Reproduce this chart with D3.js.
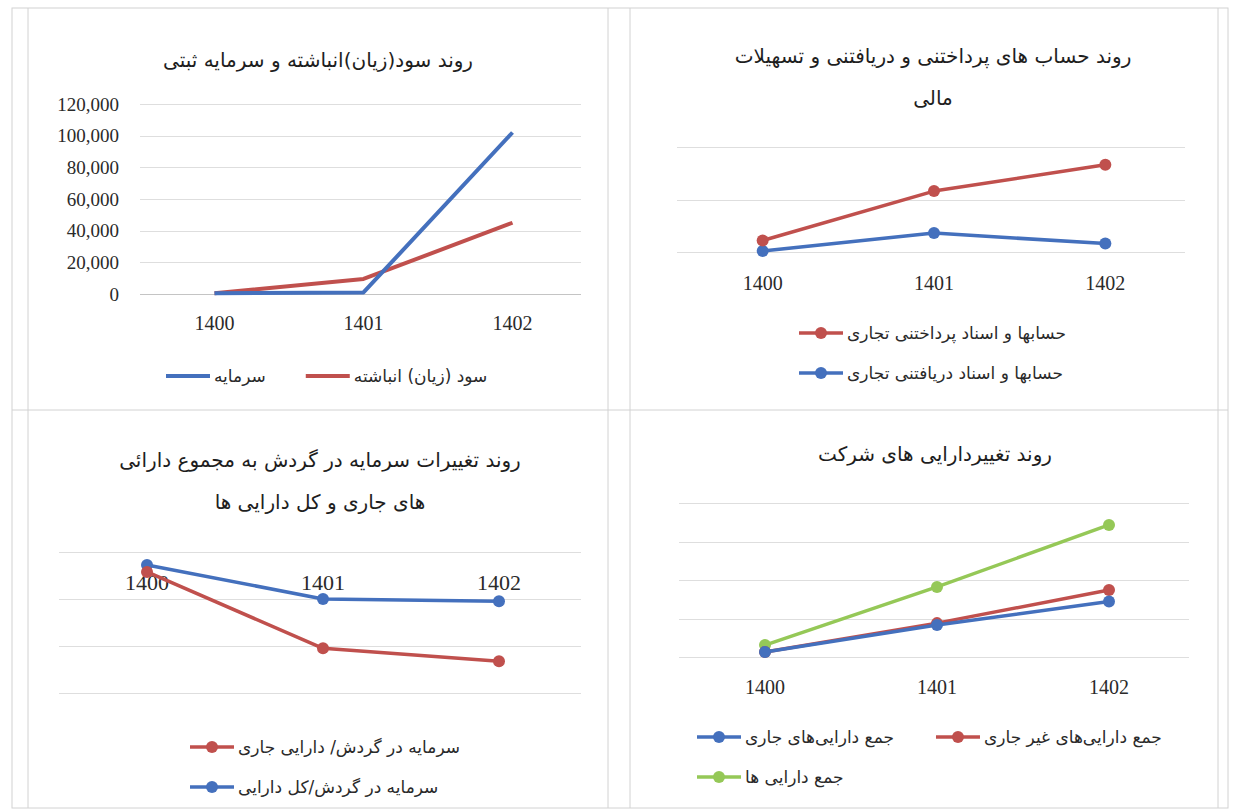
<!DOCTYPE html>
<html>
<head>
<meta charset="utf-8">
<script src="https://cdn.jsdelivr.net/npm/d3@7"></script>
<style>
  body { margin: 0; background: #fff; }
  svg { display: block; }
</style>
</head>
<body>
<svg id="chart"></svg>
<script>
const years = ["1400", "1401", "1402"];

// top-left: accumulated profit and registered capital
const sarmayeh = [500, 1000, 102000];
const sudZiyan = [500, 9500, 45000];
const p1Ticks = [0, 20000, 40000, 60000, 80000, 100000, 120000];

// top-right: payables / receivables
const pardakhtani = [11, 58, 83];
const daryaftani = [1, 18, 8];
const p2Grid = [0, 50, 100];

// bottom-left: working capital ratios
const sarmayehJari = [-0.085, -0.41, -0.465];
const sarmayehKol = [-0.055, -0.2, -0.21];
const p3Grid = [0, -0.2, -0.4, -0.6];

// bottom-right: company assets
const jariAssets = [130, 830, 1440];
const ghairJariAssets = [130, 880, 1740];
const totalAssets = [310, 1820, 3430];
const p4Grid = [0, 1000, 2000, 3000, 4000];

const blue = "#4470bd";
const red = "#c0504d";
const green = "#95c857";

const width = 1235;
const height = 812;
const numFont = "'Liberation Serif', 'Times New Roman', serif";
const faFont = "'DejaVu Sans', sans-serif";

const svg = d3.select("#chart").attr("width", width).attr("height", height);

// panel frame
const frame = svg.append("g").attr("stroke", "#d2d2d2").attr("fill", "none");
frame.append("rect").attr("x", 12).attr("y", 8).attr("width", 1216).attr("height", 800);
[28, 608, 630, 1218].forEach((x) => {
  frame.append("line").attr("x1", x).attr("x2", x).attr("y1", 8).attr("y2", 808);
});
frame.append("line").attr("x1", 12).attr("x2", 1228).attr("y1", 410).attr("y2", 410);

const panels = [
  {
    title: ["روند سود(زیان)انباشته و سرمایه ثبتی"],
    titleX: 318, titleY: 60,
    xRange: [140, 587],
    yDomain: [0, 120000], yRange: [294, 104],
    grid: p1Ticks, showY: true, axisAt: 0, labelY: 323, labelSize: 20,
    markers: false, lineWidth: 4,
    series: [
      { name: "سرمایه", values: sarmayeh, color: blue },
      { name: "سود (زیان) انباشته", values: sudZiyan, color: red },
    ],
    legend: [[0, 1]], legendX: 166, legendY: 376, legendGap: 40,
  },
  {
    title: ["روند حساب های پرداختنی و دریافتنی و تسهیلات", "مالی"],
    titleX: 933, titleY: 56,
    xRange: [677, 1191],
    yDomain: [0, 100], yRange: [252, 147],
    grid: p2Grid, showY: false, axisAt: null, labelY: 283, labelSize: 20,
    markers: true, lineWidth: 3.5,
    series: [
      { name: "حسابها و اسناد پرداختنی تجاری", values: pardakhtani, color: red },
      { name: "حسابها و اسناد دریافتنی تجاری", values: daryaftani, color: blue },
    ],
    legend: [[0], [1]], legendX: 799, legendY: 333, legendGap: 40,
  },
  {
    title: ["روند تغییرات سرمایه در گردش به مجموع دارائی", "های جاری و کل دارایی ها"],
    titleX: 320, titleY: 460,
    xRange: [59, 587],
    yDomain: [-0.6, 0], yRange: [693, 552],
    grid: p3Grid, showY: false, axisAt: null, labelY: 582, labelSize: 22,
    markers: true, lineWidth: 3.5,
    series: [
      { name: "سرمایه در گردش/ دارایی جاری", values: sarmayehJari, color: red },
      { name: "سرمایه در گردش/کل دارایی", values: sarmayehKol, color: blue },
    ],
    legend: [[0], [1]], legendX: 190, legendY: 747, legendGap: 40,
  },
  {
    title: ["روند تغییردارایی های شرکت"],
    titleX: 935, titleY: 454,
    xRange: [679, 1195],
    yDomain: [0, 4000], yRange: [657, 503],
    grid: p4Grid, showY: false, axisAt: null, labelY: 687, labelSize: 20,
    markers: true, lineWidth: 3.5,
    series: [
      { name: "جمع دارایی‌های جاری", values: jariAssets, color: blue },
      { name: "جمع دارایی‌های غیر جاری", values: ghairJariAssets, color: red },
      { name: "جمع دارایی ها", values: totalAssets, color: green },
    ],
    legend: [[0, 1], [2]], legendX: 697, legendY: 737, legendGap: 42,
  },
];

panels.forEach(function (p) {
  const g = svg.append("g");

  const x = d3.scaleBand().domain(years).range(p.xRange);
  const y = d3.scaleLinear().domain(p.yDomain).range(p.yRange);

  // title lines
  p.title.forEach(function (t, i) {
    g.append("text")
      .attr("x", p.titleX)
      .attr("y", p.titleY + i * 42)
      .attr("dy", "0.35em")
      .attr("text-anchor", "middle")
      .attr("direction", "rtl")
      .style("font-family", faFont)
      .style("font-size", "20px")
      .style("fill", "#1e1e1e")
      .text(t);
  });

  // gridlines
  g.append("g")
    .selectAll("line")
    .data(p.grid)
    .enter()
    .append("line")
    .attr("x1", p.xRange[0])
    .attr("x2", p.xRange[1] - 6)
    .attr("y1", (d) => Math.round(y(d)) + 0.5)
    .attr("y2", (d) => Math.round(y(d)) + 0.5)
    .attr("stroke", (d) => (d === p.axisAt ? "#c4c4c4" : "#dedede"))
    .attr("stroke-width", 1);

  // y axis labels (only first chart shows them)
  if (p.showY) {
    const yAxis = g.append("g")
      .attr("transform", `translate(${p.xRange[0] - 18},0)`)
      .call(d3.axisLeft(y).tickValues(p.grid).tickFormat(d3.format(",")).tickSize(0));
    yAxis.select(".domain").remove();
    yAxis.selectAll("text")
      .style("font-family", numFont)
      .style("font-size", "19px")
      .style("fill", "#2a2a2a");
  }

  // category labels
  const xAxis = g.append("g")
    .attr("transform", `translate(0,${p.labelY})`)
    .call(d3.axisBottom(x).tickSize(0).tickPadding(0));
  xAxis.select(".domain").remove();
  xAxis.selectAll("text")
    .attr("dy", "0.35em")
    .attr("y", 0)
    .style("font-family", numFont)
    .style("font-size", p.labelSize + "px")
    .style("fill", "#2a2a2a");

  const line = d3.line()
    .x((d, i) => x(years[i]) + x.bandwidth() / 2)
    .y((d) => y(d));

  // series drawn in reverse so the first legend entry sits on top
  p.series.slice().reverse().forEach(function (s) {
    g.append("path")
      .datum(s.values)
      .attr("fill", "none")
      .attr("stroke", s.color)
      .attr("stroke-width", p.lineWidth)
      .attr("stroke-linejoin", "round")
      .attr("d", line);
    if (p.markers) {
      g.selectAll(null)
        .data(s.values)
        .enter()
        .append("circle")
        .attr("cx", (d, i) => x(years[i]) + x.bandwidth() / 2)
        .attr("cy", (d) => y(d))
        .attr("r", 6)
        .attr("fill", s.color);
    }
  });

  // legend
  p.legend.forEach(function (row, r) {
    let lx = p.legendX;
    const ly = p.legendY + r * 40;
    row.forEach(function (si) {
      const s = p.series[si];
      g.append("line")
        .attr("x1", lx).attr("x2", lx + 44)
        .attr("y1", ly).attr("y2", ly)
        .attr("stroke", s.color)
        .attr("stroke-width", p.lineWidth);
      if (p.markers) {
        g.append("circle").attr("cx", lx + 22).attr("cy", ly).attr("r", 6).attr("fill", s.color);
      }
      const t = g.append("text")
        .attr("x", lx + 48)
        .attr("y", ly)
        .attr("dy", "0.35em")
        .attr("text-anchor", "end")
        .attr("direction", "rtl")
        .style("font-family", faFont)
        .style("font-size", "17px")
        .style("fill", "#2a2a2a")
        .text(s.name);
      lx += 48 + t.node().getComputedTextLength() + p.legendGap;
    });
  });
});
</script>
</body>
</html>
